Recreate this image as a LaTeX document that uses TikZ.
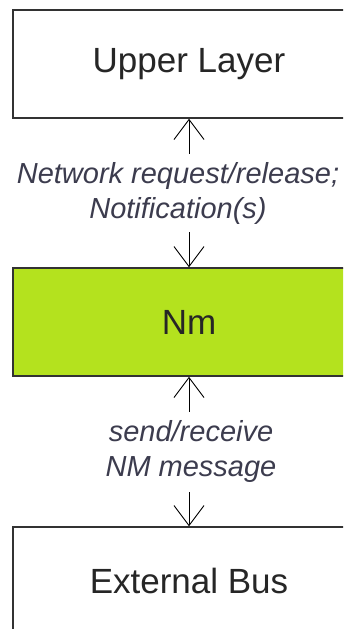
\documentclass[tikz,border=0pt]{standalone}
\usepackage{fontspec}
\setmainfont{Liberation Sans}
\usetikzlibrary{arrows.meta,positioning}
\definecolor{nmgreen}{RGB}{180,226,30}
\definecolor{boxline}{RGB}{50,50,50}
\definecolor{msgtext}{RGB}{60,60,78}

\begin{document}
\begin{tikzpicture}[x=1pt,y=-1pt,
    layer/.style={draw=boxline, line width=1.5pt, minimum width=352pt, minimum height=108pt,
        inner sep=0pt, font=\fontsize{35}{42}\selectfont, text=black!85},
    msg/.style={align=center, font=\fontsize{29}{35}\selectfont\itshape, text=msgtext, inner sep=0pt},
    flow/.style={line width=0.9pt, -{Straight Barb[length=20pt,width=30pt,line width=0.9pt]}}]
\useasboundingbox (0,0) rectangle (343,629);
\clip (0,0) rectangle (343,629);
\fill[white] (0,0) rectangle (343,629);

% the three layers
\node[layer] (upper) at (189,64) {Upper Layer};
\node[layer, fill=nmgreen] (nm) at (189,322) {Nm};
\node[layer] (bus) at (189,581) {External Bus};

% interfaces between them
\node[msg] (netreq) at (178,193) {Network request/release;\\Notification(s)};
\node[msg] (nmmsg) at (191,451) {send/receive\\NM message};

\draw[flow] ([xshift=11pt,yshift=8pt]netreq.north) -- (upper.south);
\draw[flow] ([xshift=11pt,yshift=-8pt]netreq.south) -- (nm.north);
\draw[flow] ([xshift=-2pt,yshift=8pt]nmmsg.north) -- (nm.south);
\draw[flow] ([xshift=-2pt,yshift=-10pt]nmmsg.south) -- (bus.north);
\end{tikzpicture}
\end{document}
